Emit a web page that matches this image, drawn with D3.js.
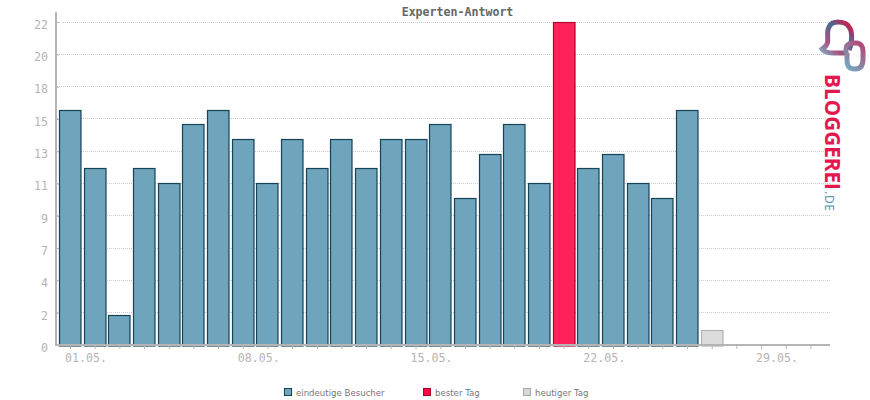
<!DOCTYPE html>
<html>
<head>
<meta charset="utf-8">
<script src="https://cdn.jsdelivr.net/npm/d3@7"></script>
<style>
  html, body { margin: 0; padding: 0; background: #fff; }
  svg { display: block; }
  .mono { font-family: "DejaVu Sans Mono", monospace; font-size: 11.6px; }
</style>
</head>
<body>
<div id="chart"></div>
<script>
var title = "Experten-Antwort";
var days = d3.range(1, 32);
var visitors = [16, 12, 2, 12, 11, 15, 16, 14, 11, 14, 12, 14, 12, 14, 14, 15, 10, 13, 15, 11, 22, 12, 13, 11, 10, 16, 1];
var bestDay = 21;
var today = 27;
var yTicks = [0, 2.2, 4.4, 6.6, 8.8, 11, 13.2, 15.4, 17.6, 19.8, 22];
var xLabelDays = [1, 8, 15, 22, 29];
var legendNames = ["eindeutige Besucher", "bester Tag", "heutiger Tag"];
var legendFill = ["#6ea4bc", "#ff0040", "#d8d8d8"];
var legendStroke = ["#164456", "#b00030", "#a8a8a8"];

var svg = d3.select("#chart").append("svg").attr("width", 870).attr("height", 400);

var x = d3.scaleLinear().domain([1, 31]).range([70, 810.4]);
var y = d3.scaleLinear().domain([0, 22]).range([345, 22]);

function barFill(i) {
  if (i + 1 == bestDay) return "#ff2259";
  if (i + 1 == today) return "#dcdcdc";
  return "#6ea4bc";
}
function barStroke(i) {
  if (i + 1 == bestDay) return "#b00030";
  if (i + 1 == today) return "#b4b4b4";
  return "#164456";
}

// grid behind the bars
svg.append("g").selectAll("line")
  .data(yTicks.slice(1))
  .enter().append("line")
  .attr("x1", 57).attr("x2", 830)
  .attr("y1", function(d) { return Math.floor(y(d)) + 0.5; })
  .attr("y2", function(d) { return Math.floor(y(d)) + 0.5; })
  .attr("stroke", "#cccccc")
  .attr("stroke-dasharray", "1 1");

svg.append("g").selectAll("rect")
  .data(visitors)
  .enter().append("rect")
  .attr("x", function(d, i) { return Math.round(x(i + 1) - 11) + 0.5; })
  .attr("width", 21.5)
  .attr("y", function(d) { return Math.floor(y(d)) + 0.5; })
  .attr("height", function(d) { return 345.5 - Math.floor(y(d)); })
  .attr("fill", function(d, i) { return barFill(i); })
  .attr("stroke", function(d, i) { return barStroke(i); })
  .attr("stroke-width", 1.2);

// axes, grey line runs over the foot of the bars
var xAxis = d3.axisBottom(x)
  .tickValues(days)
  .tickSize(4)
  .tickPadding(5)
  .tickFormat(function(d) {
    if (xLabelDays.indexOf(d) < 0) return "";
    return d3.format("02")(d) + ".05.";
  });

var gx = svg.append("g").attr("transform", "translate(0,345)").call(xAxis);
gx.select(".domain").remove();
gx.selectAll("line").attr("stroke", "#b4b4b4");
gx.selectAll("text")
  .attr("class", "mono")
  .attr("dx", 15.5)
  .attr("fill", "#b4b4b4")
  .attr("text-anchor", "middle");

var yAxis = d3.axisLeft(y)
  .tickValues(yTicks)
  .tickSize(-3)
  .tickPadding(8)
  .tickFormat(function(d) { return Math.round(d); });

var gy = svg.append("g").attr("transform", "translate(56,0)").call(yAxis);
gy.select(".domain").remove();
gy.selectAll("line").attr("stroke", "#b4b4b4");
gy.selectAll("text")
  .attr("class", "mono")
  .attr("dy", "0.55em")
  .attr("fill", "#b4b4b4");

svg.append("line").attr("x1", 56).attr("x2", 56).attr("y1", 12).attr("y2", 346)
  .attr("stroke", "#b4b4b4").attr("stroke-width", 2);
svg.append("line").attr("x1", 55).attr("x2", 830).attr("y1", 345).attr("y2", 345)
  .attr("stroke", "#b4b4b4").attr("stroke-width", 2);

svg.append("text")
  .attr("class", "mono")
  .attr("x", 457.5).attr("y", 16)
  .attr("text-anchor", "middle")
  .attr("fill", "#666")
  .style("font-weight", "bold")
  .text(title);

// legend
var legendX = d3.scaleOrdinal().domain(legendNames).range([284, 423, 523]);
var legend = svg.append("g").selectAll("g")
  .data(legendNames)
  .enter().append("g")
  .attr("transform", function(d) { return "translate(" + legendX(d) + ",388)"; });
legend.append("rect")
  .attr("x", 0.5).attr("y", 0.5).attr("width", 7).attr("height", 7)
  .attr("fill", function(d, i) { return legendFill[i]; })
  .attr("stroke", function(d, i) { return legendStroke[i]; });
legend.append("text")
  .attr("x", 12).attr("y", 7.5)
  .attr("fill", "#777")
  .style("font-family", "'DejaVu Sans', sans-serif")
  .style("font-size", "8.6px")
  .text(function(d) { return d; });

// logo
var defs = svg.append("defs");
var grad = defs.append("linearGradient").attr("id", "logoText")
  .attr("gradientUnits", "userSpaceOnUse")
  .attr("x1", 0).attr("y1", 74).attr("x2", 0).attr("y2", 212);
grad.append("stop").attr("offset", "0").attr("stop-color", "#e5174f");
grad.append("stop").attr("offset", "0.3").attr("stop-color", "#a33a6c");
grad.append("stop").attr("offset", "0.7").attr("stop-color", "#5f6a96");
grad.append("stop").attr("offset", "1").attr("stop-color", "#4a97b5");

var grad2 = defs.append("linearGradient").attr("id", "logoHeart")
  .attr("gradientUnits", "userSpaceOnUse")
  .attr("x1", 822).attr("y1", 55).attr("x2", 852).attr("y2", 22);
grad2.append("stop").attr("offset", "0").attr("stop-color", "#79b3c6");
grad2.append("stop").attr("offset", "0.3").attr("stop-color", "#a9527f");
grad2.append("stop").attr("offset", "0.65").attr("stop-color", "#476c8f");
grad2.append("stop").attr("offset", "1").attr("stop-color", "#f5063f");

var grad3 = defs.append("linearGradient").attr("id", "logoLink")
  .attr("gradientUnits", "userSpaceOnUse")
  .attr("x1", 846).attr("y1", 66).attr("x2", 864).attr("y2", 46);
grad3.append("stop").attr("offset", "0").attr("stop-color", "#74a8bf");
grad3.append("stop").attr("offset", "1").attr("stop-color", "#b4487a");

var logo = svg.append("g").attr("fill", "none").attr("stroke-width", 5);
logo.append("path")
  .attr("d", "M849,50C853,42 852,30 849,27C846,21 832,20 829,27C826,32 829,40 827,44C826,47 823,48 822,49C826,54 832,53 846,53")
  .attr("stroke", "url(#logoHeart)");
logo.append("path")
  .attr("d", "M846,53V49C846,43 852,43 856,43C861,43 863,47 863,51V59C863,66 860,69 855,69C849,69 847,66 847,60V53")
  .attr("stroke", "url(#logoLink)");

svg.append("text")
  .attr("transform", "translate(825,74) rotate(90)")
  .attr("textLength", 116)
  .attr("lengthAdjust", "spacingAndGlyphs")
  .attr("fill", "url(#logoText)")
  .style("font-family", "'Open Sans', sans-serif")
  .style("font-weight", "bold")
  .style("font-size", "21px")
  .text("BLOGGEREI");
svg.append("text")
  .attr("transform", "translate(825,191) rotate(90)")
  .attr("textLength", 20)
  .attr("fill", "#4a8fb0")
  .style("font-family", "'Open Sans', sans-serif")
  .style("font-size", "12px")
  .text(".DE");
</script>
</body>
</html>
